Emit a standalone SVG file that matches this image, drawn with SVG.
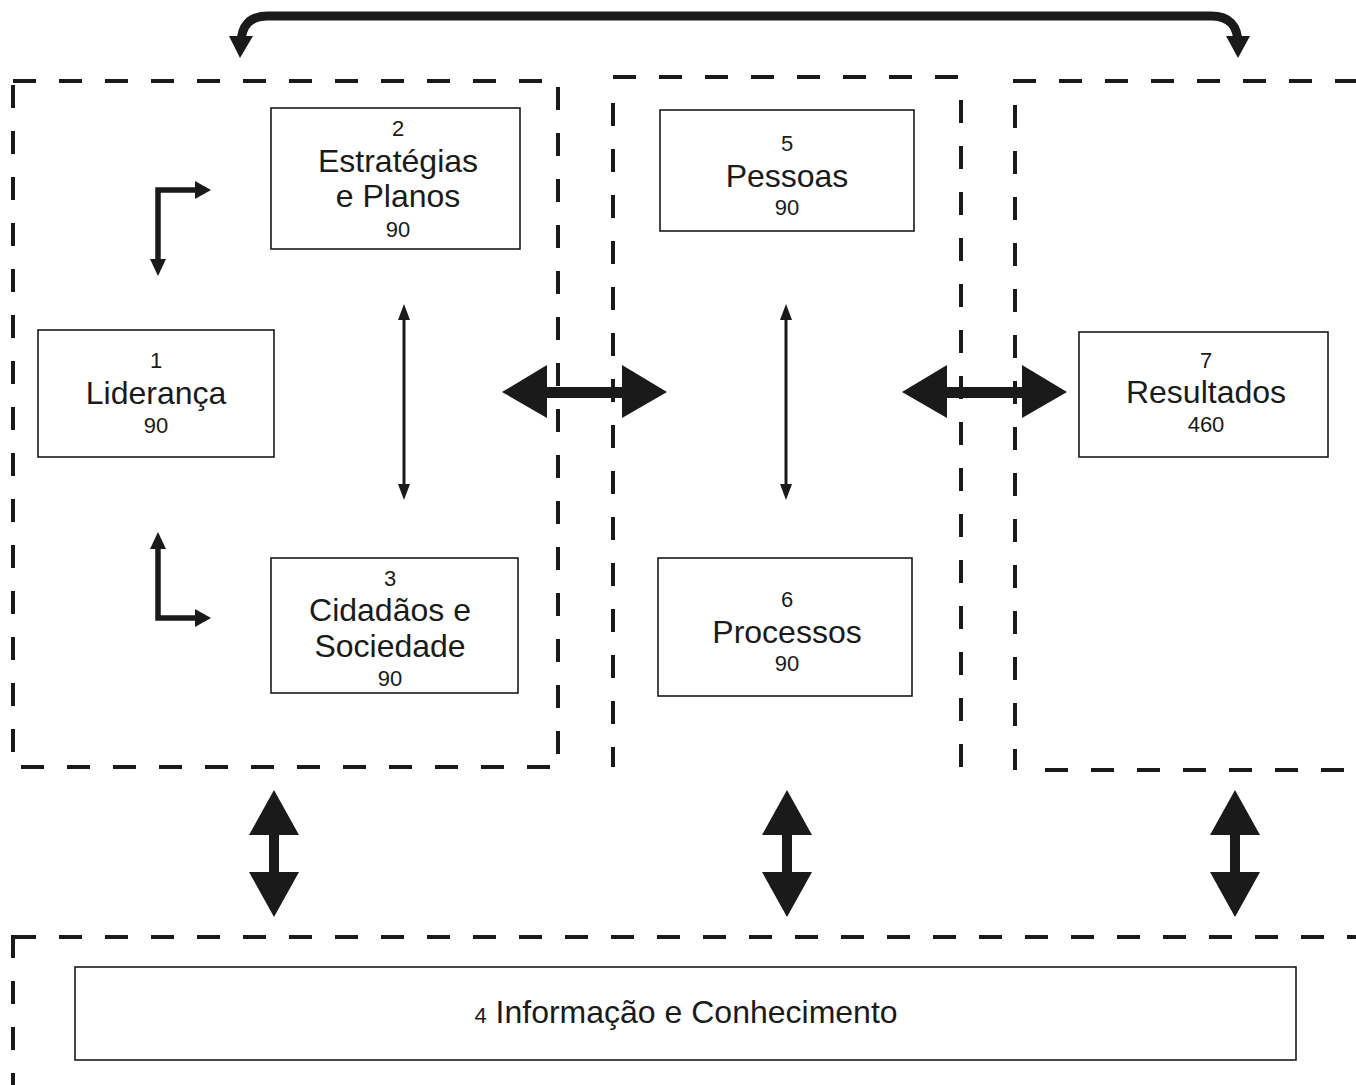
<svg xmlns="http://www.w3.org/2000/svg" width="1356" height="1085" viewBox="0 0 1356 1085">
<style>
.dash{stroke:#1a1a1a;stroke-width:4;stroke-dasharray:23 23;fill:none}
.box{fill:#fff;stroke:#1a1a1a;stroke-width:1.6}
.t{font-family:"Liberation Sans",Arial,sans-serif;fill:#1a1a1a;text-anchor:middle}
.big{font-size:32px}
.num{font-size:22px}
.ar{fill:#1a1a1a}
.ln{stroke:#1a1a1a;fill:none}
</style>
<rect width="1356" height="1085" fill="#fff"/>
<g id="groups">
<line class="dash" x1="13" y1="81" x2="558" y2="81"/>
<line class="dash" x1="13" y1="85" x2="13" y2="767"/>
<line class="dash" x1="21" y1="767" x2="558" y2="767"/>
<line class="dash" x1="558" y1="87" x2="558" y2="767"/>
<line class="dash" x1="613" y1="77" x2="961" y2="77"/>
<line class="dash" x1="613" y1="103" x2="613" y2="767"/>
<line class="dash" x1="961" y1="100" x2="961" y2="767"/>
<line class="dash" x1="1013" y1="81" x2="1356" y2="81"/>
<line class="dash" x1="1015" y1="105" x2="1015" y2="770"/>
<line class="dash" x1="1045" y1="770" x2="1356" y2="770"/>
<line class="dash" x1="13" y1="937" x2="1356" y2="937"/>
<line class="dash" x1="13" y1="935" x2="13" y2="1085"/>
</g>
<g id="connectors">
<path class="ln" d="M241 44 Q241 16 268 16 H1211 Q1238 16 1238 44" stroke-width="9"/>
<polygon class="ar" points="229,36 253,36 240,58"/>
<polygon class="ar" points="1226,36 1250,36 1238,58"/>
<path class="ln" d="M158 262 V190 H196" stroke-width="5.5"/>
<polygon class="ar" points="195,181 211,190 195,199"/>
<polygon class="ar" points="150,259 166,259 158,276"/>
<path class="ln" d="M158 546 V618 H196" stroke-width="5.5"/>
<polygon class="ar" points="195,609 211,618 195,627"/>
<polygon class="ar" points="150,549 166,549 158,532"/>
<line class="ln" x1="404" y1="318" x2="404" y2="486" stroke-width="3"/>
<polygon class="ar" points="398,320 410,320 404,304"/>
<polygon class="ar" points="398,484 410,484 404,500"/>
<line class="ln" x1="786" y1="318" x2="786" y2="486" stroke-width="3"/>
<polygon class="ar" points="780,320 792,320 786,304"/>
<polygon class="ar" points="780,484 792,484 786,500"/>
<polygon class="ar" points="502,392 547,365 547,387 622,387 622,365 667,392 622,418 622,398 547,398 547,418"/>
<polygon class="ar" points="902,392 947,365 947,387 1022,387 1022,365 1067,392 1022,418 1022,398 947,398 947,418"/>
<polygon class="ar" points="274,790 299,835 279,835 279,872 299,872 274,917 249,872 269,872 269,835 249,835"/>
<polygon class="ar" points="787,790 812,835 792,835 792,872 812,872 787,917 762,872 782,872 782,835 762,835"/>
<polygon class="ar" points="1235,790 1260,835 1240,835 1240,872 1260,872 1235,917 1210,872 1230,872 1230,835 1210,835"/>
</g>
<g id="n2">
<rect class="box" x="271" y="108" width="249" height="141"/>
<text class="t num" x="398" y="136">2</text>
<text class="t big" x="398" y="172">Estratégias</text>
<text class="t big" x="398" y="207">e Planos</text>
<text class="t num" x="398" y="237">90</text>
</g>
<g id="n5">
<rect class="box" x="660" y="110" width="254" height="121"/>
<text class="t num" x="787" y="151">5</text>
<text class="t big" x="787" y="187">Pessoas</text>
<text class="t num" x="787" y="215">90</text>
</g>
<g id="n1">
<rect class="box" x="38" y="330" width="236" height="127"/>
<text class="t num" x="156" y="368">1</text>
<text class="t big" x="156" y="404">Liderança</text>
<text class="t num" x="156" y="433">90</text>
</g>
<g id="n7">
<rect class="box" x="1079" y="332" width="249" height="125"/>
<text class="t num" x="1206" y="368">7</text>
<text class="t big" x="1206" y="403">Resultados</text>
<text class="t num" x="1206" y="432">460</text>
</g>
<g id="n3">
<rect class="box" x="271" y="558" width="247" height="135"/>
<text class="t num" x="390" y="586">3</text>
<text class="t big" x="390" y="621">Cidadãos e</text>
<text class="t big" x="390" y="657">Sociedade</text>
<text class="t num" x="390" y="686">90</text>
</g>
<g id="n6">
<rect class="box" x="658" y="558" width="254" height="138"/>
<text class="t num" x="787" y="607">6</text>
<text class="t big" x="787" y="643">Processos</text>
<text class="t num" x="787" y="671">90</text>
</g>
<g id="n4">
<rect class="box" x="75" y="967" width="1221" height="93"/>
<text class="t big" x="686" y="1023"><tspan class="num">4</tspan> Informação e Conhecimento</text>
</g>
</svg>
